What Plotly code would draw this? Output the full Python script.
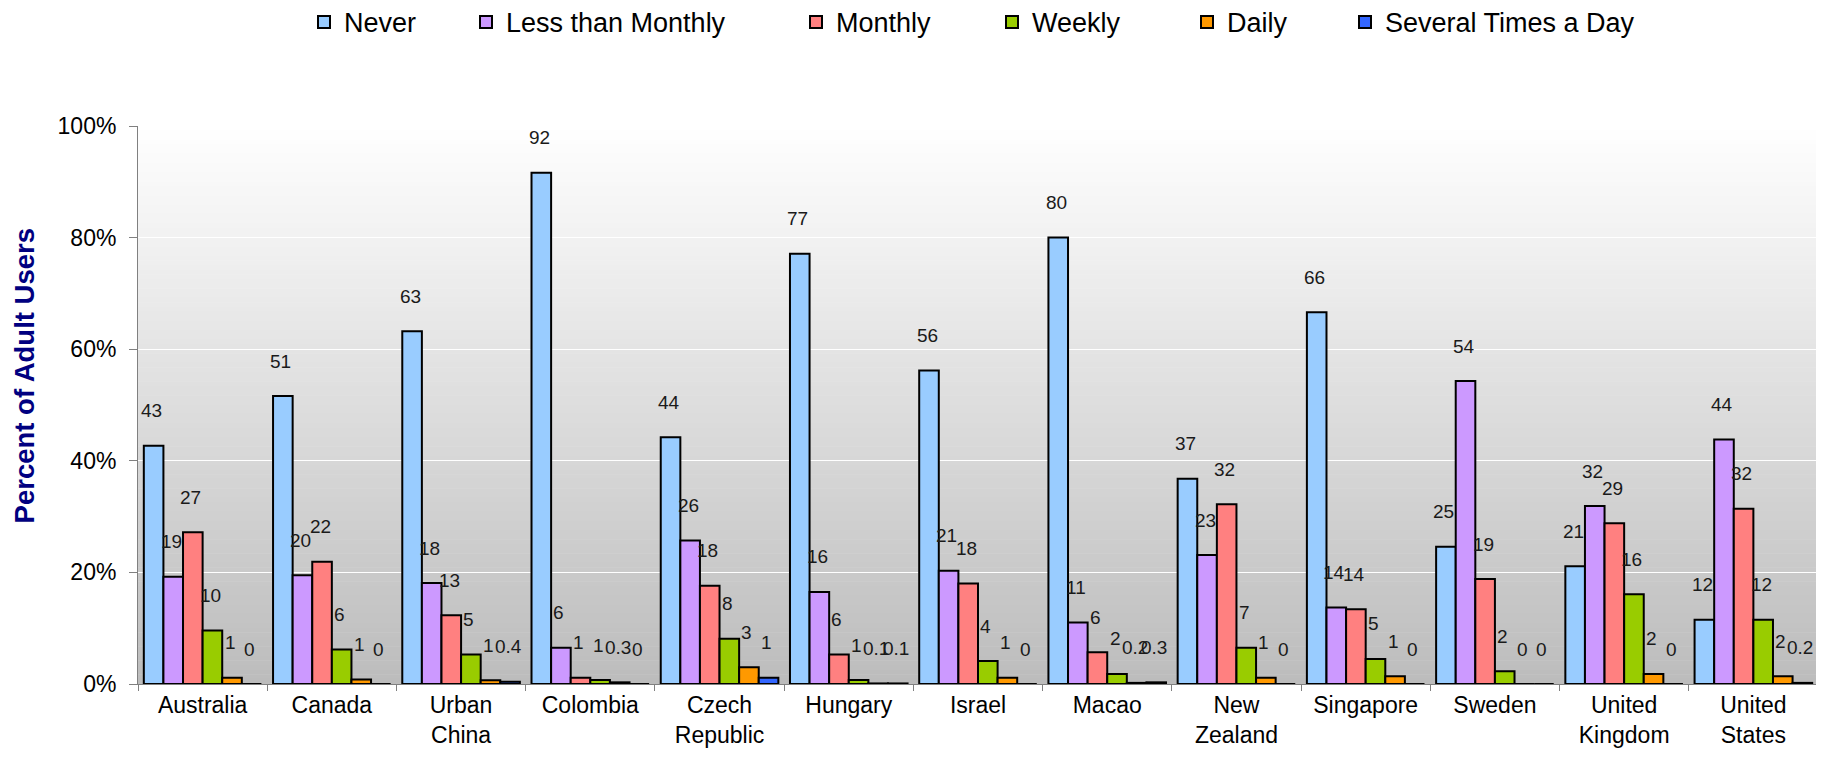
import plotly.graph_objects as go

# ---------------- data ----------------
countries = ["Australia", "Canada", "Urban<br>China", "Colombia", "Czech<br>Republic",
             "Hungary", "Israel", "Macao", "New<br>Zealand", "Singapore", "Sweden",
             "United<br>Kingdom", "United<br>States"]
series_names = ["Never", "Less than Monthly", "Monthly", "Weekly", "Daily",
                "Several Times a Day"]

never = [42.7, 51.6, 63.2, 91.6, 44.2, 77.1, 56.2, 80.0, 36.8, 66.6, 24.6, 21.1, 11.5]
less_than_monthly = [19.2, 19.5, 18.1, 6.5, 25.7, 16.5, 20.3, 11.0, 23.1, 13.7, 54.3, 31.9, 43.8]
monthly = [27.2, 21.9, 12.3, 1.1, 17.6, 5.3, 18.0, 5.7, 32.2, 13.4, 18.8, 28.8, 31.4]
weekly = [9.6, 6.2, 5.3, 0.7, 8.1, 0.7, 4.1, 1.8, 6.5, 4.5, 2.3, 16.1, 11.5]
daily = [1.1, 0.8, 0.65, 0.3, 3.0, 0.1, 1.1, 0.2, 1.1, 1.4, 0.0, 1.8, 1.4]
several_times_a_day = [0.0, 0.0, 0.4, 0.0, 1.1, 0.1, 0.0, 0.3, 0.0, 0.0, 0.0, 0.0, 0.2]

lbl_never = ["43", "51", "63", "92", "44", "77", "56", "80", "37", "66", "25", "21", "12"]
lbl_less_than_monthly = ["19", "20", "18", "6", "26", "16", "21", "11", "23", "14", "54", "32", "44"]
lbl_monthly = ["27", "22", "13", "1", "18", "6", "18", "6", "32", "14", "19", "29", "32"]
lbl_weekly = ["10", "6", "5", "1", "8", "1", "4", "2", "7", "5", "2", "16", "12"]
lbl_daily = ["1", "1", "1", "0.3", "3", "0.1", "1", "0.2", "1", "1", "0", "2", "2"]
lbl_several = ["0", "0", "0.4", "0", "1", "0.1", "0", "0.3", "0", "0", "0", "0", "0.2"]

y_ticks = [0, 20, 40, 60, 80, 100]
y_ticktext = ["0%", "20%", "40%", "60%", "80%", "100%"]

# ---------------- styling ----------------
colors = ["#99CCFF", "#CC99FF", "#FF8080", "#99CC00", "#FF9900", "#3366FF"]
values = [never, less_than_monthly, monthly, weekly, daily, several_times_a_day]
labels = [lbl_never, lbl_less_than_monthly, lbl_monthly, lbl_weekly, lbl_daily, lbl_several]

OFF = 8                      # default page body margin
W, H = 1824 - OFF, 762 - OFF
PLOT_L, PLOT_R, PLOT_T, PLOT_B = 138, 1818, 125.6, 683.6   # page pixels
ML, MR = PLOT_L - OFF, W - (PLOT_R - OFF)
MT, MB = PLOT_T - OFF, H - (PLOT_B - OFF)
PW, PH = PLOT_R - PLOT_L, PLOT_B - PLOT_T
BARGAP = 0.09

def px_to_paper_x(px):
    return (px - PLOT_L) / PW

def px_to_paper_y(py):
    return (PLOT_B - py) / PH

narrow = "Liberation Sans Narrow, Arial Narrow, Liberation Sans, Arial, sans-serif"
regular = "Liberation Sans, Arial, sans-serif"

fig = go.Figure()
for i, (name, vals, col) in enumerate(zip(series_names, values, colors)):
    fig.add_trace(go.Bar(
        name=name, x=countries, y=vals,
        marker=dict(color=col, line=dict(color="#000000", width=2)),
        legend="legend" if i == 0 else f"legend{i+1}",
        hoverinfo="x+y+name",
    ))

# data labels
bar_px = PW / len(countries) * (1 - BARGAP) / len(series_names)
annotations = []
for i, (vals, lbls) in enumerate(zip(values, labels)):
    for c, v, t in zip(countries, vals, lbls):
        annotations.append(dict(
            x=c, y=v, xref="x", yref="y", text=t, showarrow=False,
            xshift=(i - 2.5) * bar_px - 2, yshift=35, yanchor="middle",
            font=dict(family=narrow, size=19, color="#1a1a1a"),
        ))

# y-axis title
annotations.append(dict(
    x=px_to_paper_x(24), y=px_to_paper_y(376), xref="paper", yref="paper",
    text="<b>Percent of Adult Users</b>", textangle=-90, showarrow=False,
    xanchor="center", yanchor="middle",
    font=dict(family=regular, size=27.5, color="#000080"),
))

# gradient plot background as thin bands
shapes = []
N = 120
top_c, bot_c = (255, 255, 255), (188, 188, 188)
for k in range(N):
    f = (k + 0.5) / N
    r = [round(top_c[j] + (bot_c[j] - top_c[j]) * f) for j in range(3)]
    shapes.append(dict(
        type="rect", xref="paper", yref="paper", x0=0, x1=1,
        y0=1 - (k + 1) / N, y1=1 - k / N + 0.001,
        fillcolor=f"rgb({r[0]},{r[1]},{r[2]})", line=dict(width=0), layer="below",
    ))

legend_text_left = [343, 505, 835, 1031, 1226, 1384]
layout_legends = {}
leg_y = px_to_paper_y(22)
for i, tx in enumerate(legend_text_left):
    key = "legend" if i == 0 else f"legend{i+1}"
    layout_legends[key] = dict(
        x=px_to_paper_x(tx - 39), y=leg_y, xanchor="left", yanchor="middle",
        orientation="h", bgcolor="rgba(0,0,0,0)", borderwidth=0,
        font=dict(family=regular, size=27, color="#000000"),
    )

fig.update_layout(
    width=W, height=H,
    margin=dict(l=ML, r=MR, t=MT, b=MB, autoexpand=False),
    paper_bgcolor="#ffffff", plot_bgcolor="rgba(0,0,0,0)",
    barmode="group", bargap=BARGAP, bargroupgap=0,
    showlegend=True,
    annotations=annotations, shapes=shapes,
    xaxis=dict(
        showline=True, linecolor="#808080", linewidth=1,
        ticks="outside", tickson="boundaries", ticklen=6, tickcolor="#808080",
        tickfont=dict(family=regular, size=23, color="#000000"),
        showgrid=False,
    ),
    yaxis=dict(
        range=[0, 100], tickvals=y_ticks, ticktext=y_ticktext,
        showline=True, linecolor="#808080", linewidth=1,
        ticks="outside", ticklen=8, tickcolor="#808080",
        tickfont=dict(family=regular, size=23, color="#000000"),
        showgrid=True, gridcolor="#ffffff", gridwidth=1.3,
        zeroline=False, ticklabelstandoff=8,
    ),
    **layout_legends,
)

fig.write_html("out.html")
